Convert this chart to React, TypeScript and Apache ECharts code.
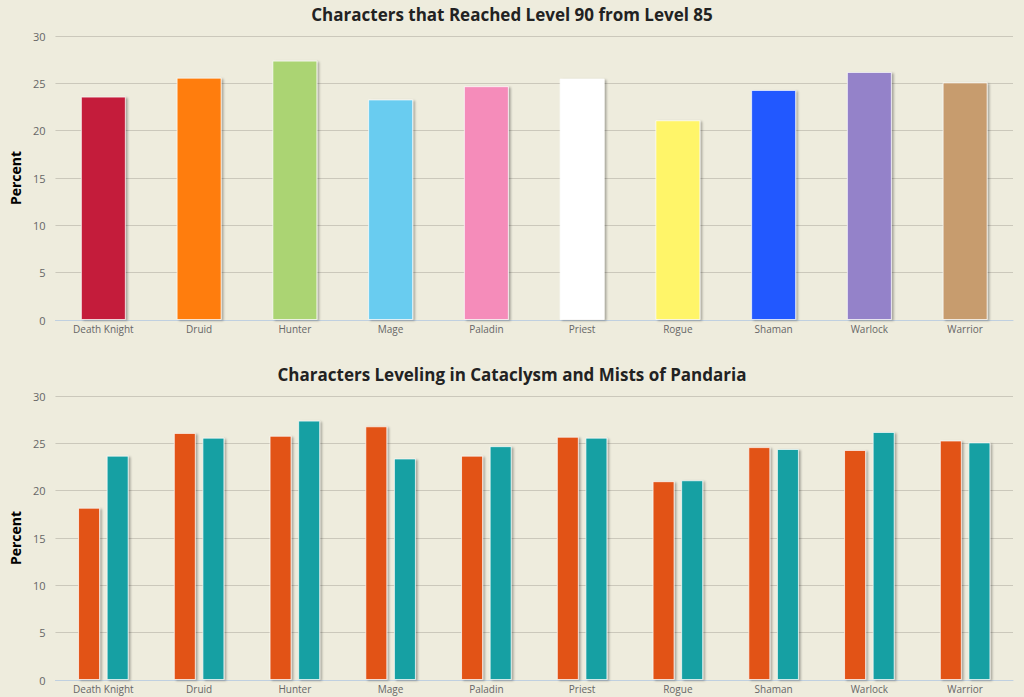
import { useEffect, useRef } from 'react';
import * as echarts from 'echarts';

const classes = ['Death Knight', 'Druid', 'Hunter', 'Mage', 'Paladin', 'Priest', 'Rogue', 'Shaman', 'Warlock', 'Warrior'];
const classColors = ['#c41f3b', '#ff7d0a', '#abd473', '#69ccf0', '#f58cba', '#ffffff', '#fff569', '#2459ff', '#9482c9', '#c79c6e'];
const reached90 = [23.6, 25.6, 27.4, 23.3, 24.7, 25.5, 21.1, 24.3, 26.2, 25.1];
const cataclysm = [18.2, 26.1, 25.8, 26.8, 23.7, 25.7, 21.0, 24.6, 24.3, 25.3];
const pandaria = [23.7, 25.6, 27.4, 23.4, 24.7, 25.6, 21.1, 24.4, 26.2, 25.1];
const yTicks = { min: 0, max: 30, interval: 5 };

const FONT = '"Open Sans", "DejaVu Sans", sans-serif';

export default function App() {
  const chartRef = useRef<HTMLDivElement>(null);

  useEffect(() => {
    if (!chartRef.current) return;
    const chart = echarts.init(chartRef.current, undefined, { renderer: 'svg' });

    // shared axis look for both panels
    const xAxisBase = {
      type: 'category' as const,
      data: classes,
      axisLine: { lineStyle: { color: '#c0d0e0' } },
      axisTick: { length: 5, lineStyle: { color: '#c0d0e0' } },
      axisLabel: { color: '#666', fontSize: 10, fontFamily: FONT, margin: 4 },
    };
    const yAxisBase = {
      type: 'value' as const,
      ...yTicks,
      name: 'Percent',
      nameLocation: 'middle' as const,
      nameGap: 26,
      nameTextStyle: { color: '#000', fontSize: 14, fontWeight: 'bold' as const, fontFamily: FONT },
      axisLine: { show: false },
      axisTick: { show: false },
      axisLabel: { color: '#666', fontSize: 11, fontFamily: FONT, margin: 10 },
      splitLine: { lineStyle: { color: '#cbc8bb' } },
    };
    const barShadow = {
      borderColor: 'rgba(255,255,255,0.7)',
      borderWidth: 1,
      shadowColor: 'rgba(0,0,0,0.3)',
      shadowBlur: 2,
      shadowOffsetX: 2,
      shadowOffsetY: 1,
    };
    const titleStyle = { color: '#222', fontSize: 17, fontWeight: 'bold' as const, fontFamily: FONT };

    const option: echarts.EChartsOption = {
      animation: false,
      backgroundColor: '#eeecdd',
      title: [
        {
          text: 'Characters that Reached Level 90 from Level 85',
          left: 'center',
          top: 6,
          padding: 0,
          textStyle: titleStyle,
        },
        {
          text: 'Characters Leveling in Cataclysm and Mists of Pandaria',
          left: 'center',
          top: 366,
          padding: 0,
          textStyle: titleStyle,
        },
      ],
      grid: [
        { left: 53, right: 11, top: 36, height: 284 },
        { left: 53, right: 11, top: 396, height: 284 },
      ],
      xAxis: [
        { ...xAxisBase, gridIndex: 0 },
        { ...xAxisBase, gridIndex: 1 },
      ],
      yAxis: [
        { ...yAxisBase, gridIndex: 0 },
        { ...yAxisBase, gridIndex: 1 },
      ],
      series: [
        {
          name: 'Reached 90',
          type: 'bar',
          xAxisIndex: 0,
          yAxisIndex: 0,
          barWidth: 45,
          data: reached90.map((v, i) => ({ value: v, itemStyle: { color: classColors[i] } })),
          itemStyle: barShadow,
        },
        {
          name: 'Cataclysm',
          type: 'bar',
          xAxisIndex: 1,
          yAxisIndex: 1,
          barWidth: 22,
          barGap: '30%',
          data: cataclysm,
          itemStyle: { ...barShadow, color: '#e25215' },
        },
        {
          name: 'Mists of Pandaria',
          type: 'bar',
          xAxisIndex: 1,
          yAxisIndex: 1,
          barWidth: 22,
          barGap: '30%',
          data: pandaria,
          itemStyle: { ...barShadow, color: '#13a0a3' },
        },
      ],
    };

    chart.setOption(option);

    const handleResize = () => chart.resize();
    window.addEventListener('resize', handleResize);

    return () => {
      window.removeEventListener('resize', handleResize);
      chart.dispose();
    };
  }, []);

  return (
    <div
      ref={chartRef}
      style={{ position: 'fixed', left: 0, top: 0, width: '1024px', height: '697px' }}
    />
  );
}
